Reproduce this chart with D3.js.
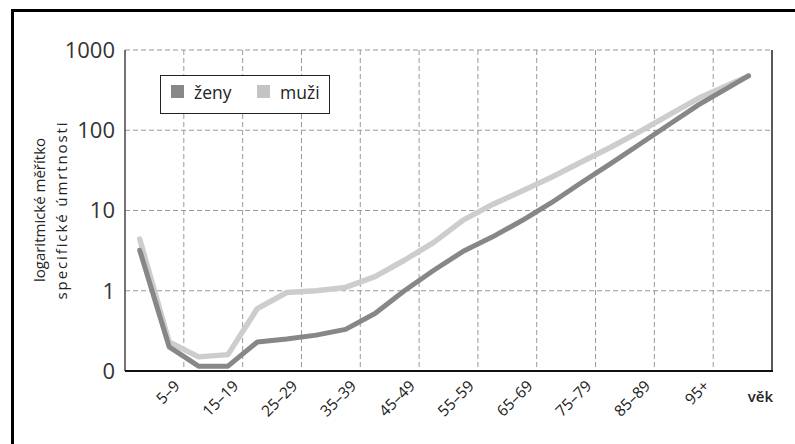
<!DOCTYPE html>
<html>
<head>
<meta charset="utf-8">
<script src="https://cdn.jsdelivr.net/npm/d3@7"></script>
<style>
  body { margin: 0; background: #fff; }
  svg { display: block; font-family: "Open Sans", sans-serif; }
</style>
</head>
<body>
<svg width="795" height="444"></svg>
<script>
// age groups and their position on the age axis
const ageGroups = ["0", "1–4", "5–9", "10–14", "15–19", "20–24", "25–29", "30–34", "35–39", "40–44",
    "45–49", "50–54", "55–59", "60–64", "65–69", "70–74", "75–79", "80–84", "85–89", "90–94", "95+"];
const ageMid = [-2.5, 2.5, 7.5, 12.5, 17.5, 22.5, 27.5, 32.5, 37.5, 42.5,
    47.5, 52.5, 57.5, 62.5, 67.5, 72.5, 77.5, 82.5, 87.5, 92.5, 101];

// specific mortality (log scale)
const zeny = [3.2, 0.2, 0.115, 0.115, 0.23, 0.25, 0.28, 0.33, 0.52, 1.0,
    1.8, 3.1, 4.7, 7.5, 12.5, 22, 38, 67, 118, 207, 475];
const muzi = [4.4, 0.23, 0.15, 0.16, 0.6, 0.95, 1.0, 1.1, 1.5, 2.4,
    4.0, 7.6, 11.9, 17.5, 26, 40, 61, 96, 155, 250, 475];

const tickAges = [5, 15, 25, 35, 45, 55, 65, 75, 85, 95];
const tickLabels = ["5–9", "15–19", "25–29", "35–39", "45–49", "55–59", "65–69", "75–79", "85–89", "95+"];
const yTicks = [0.1, 1, 10, 100, 1000];
const yTickLabels = ["0", "1", "10", "100", "1000"];

const svg = d3.select("svg");

// outer frame (cut off at right and bottom)
svg.append("path")
    .attr("d", "M12.5,444 V10.5 H795")
    .attr("fill", "none")
    .attr("stroke", "#000")
    .attr("stroke-width", 3);

const plotL = 125, plotR = 772, plotT = 50, plotB = 371;

const x = d3.scaleLinear().domain([-5, 105]).range([plotL, plotR]);
const y = d3.scaleLog().domain([0.1, 1000]).range([plotB, plotT]);

const grid = svg.append("g");

grid.selectAll(".vg")
    .data(tickAges)
    .enter().append("line")
    .attr("x1", d => x(d)).attr("x2", d => x(d))
    .attr("y1", plotT).attr("y2", plotB)
    .attr("stroke", "#999")
    .attr("stroke-dasharray", "5,3");

grid.selectAll(".hg")
    .data(yTicks.slice(1))
    .enter().append("line")
    .attr("x1", plotL).attr("x2", plotR)
    .attr("y1", d => y(d)).attr("y2", d => y(d))
    .attr("stroke", "#999")
    .attr("stroke-dasharray", "5,3");

// axis lines
svg.append("line")
    .attr("x1", plotL).attr("x2", plotL).attr("y1", plotT).attr("y2", plotB)
    .attr("stroke", "#444").attr("stroke-width", 1.5);
svg.append("line")
    .attr("x1", plotR).attr("x2", plotR).attr("y1", plotT).attr("y2", plotB)
    .attr("stroke", "#222").attr("stroke-width", 1.5);

// y tick labels
svg.selectAll(".ylab")
    .data(yTicks)
    .enter().append("text")
    .attr("x", 115)
    .attr("y", d => y(d))
    .attr("dy", "0.36em")
    .attr("text-anchor", "end")
    .attr("font-size", 22)
    .attr("fill", "#333")
    .text((d, i) => yTickLabels[i]);

// y axis title
const yt = svg.append("text")
    .attr("transform", "translate(40,210) rotate(-90)")
    .attr("text-anchor", "middle")
    .attr("font-size", 15)
    .attr("fill", "#222");
yt.append("tspan").attr("x", 0).attr("dy", "0.35em").text("logaritmické měřítko");
yt.append("tspan").attr("x", 0).attr("dy", "1.45em")
    .attr("letter-spacing", "1.9px").text("specifické úmrtnosti");

// x tick labels
svg.selectAll(".xlab")
    .data(tickAges)
    .enter().append("text")
    .attr("transform", d => "translate(" + (x(d) - 3) + ",387) rotate(-45)")
    .attr("text-anchor", "end")
    .attr("font-size", 15.5)
    .attr("fill", "#222")
    .text((d, i) => tickLabels[i]);

svg.append("text")
    .attr("x", x(105) + 1)
    .attr("y", 402)
    .attr("text-anchor", "end")
    .attr("font-size", 15)
    .attr("font-weight", 600)
    .attr("fill", "#222")
    .text("věk");

// lines
const line = d3.line()
    .x((d, i) => x(ageMid[i]))
    .y(d => y(d));

svg.append("path")
    .datum(muzi)
    .attr("d", line)
    .attr("fill", "none")
    .attr("stroke", "#cdcdcd")
    .attr("stroke-width", 5.5)
    .attr("stroke-linejoin", "round")
    .attr("stroke-linecap", "round");

svg.append("path")
    .datum(zeny)
    .attr("d", line)
    .attr("fill", "none")
    .attr("stroke", "#878787")
    .attr("stroke-width", 5)
    .attr("stroke-linejoin", "round")
    .attr("stroke-linecap", "round");

// bottom axis drawn over lines
svg.append("line")
    .attr("x1", plotL).attr("x2", plotR + 1).attr("y1", plotB).attr("y2", plotB)
    .attr("stroke", "#111").attr("stroke-width", 2);

// legend
const legend = svg.append("g");
legend.append("rect")
    .attr("x", 160.5).attr("y", 75.5)
    .attr("width", 169).attr("height", 38)
    .attr("fill", "#fff")
    .attr("stroke", "#222");

const legendItems = [
    {name: "ženy", color: "#878787", sx: 171, tx: 194},
    {name: "muži", color: "#c4c4c4", sx: 257, tx: 280}
];
legend.selectAll(".sw")
    .data(legendItems)
    .enter().append("rect")
    .attr("x", d => d.sx).attr("y", 85)
    .attr("width", 13).attr("height", 13)
    .attr("fill", d => d.color);
legend.selectAll(".lt")
    .data(legendItems)
    .enter().append("text")
    .attr("x", d => d.tx).attr("y", 99)
    .attr("font-size", 17.5)
    .attr("fill", "#222")
    .text(d => d.name);
</script>
</body>
</html>
